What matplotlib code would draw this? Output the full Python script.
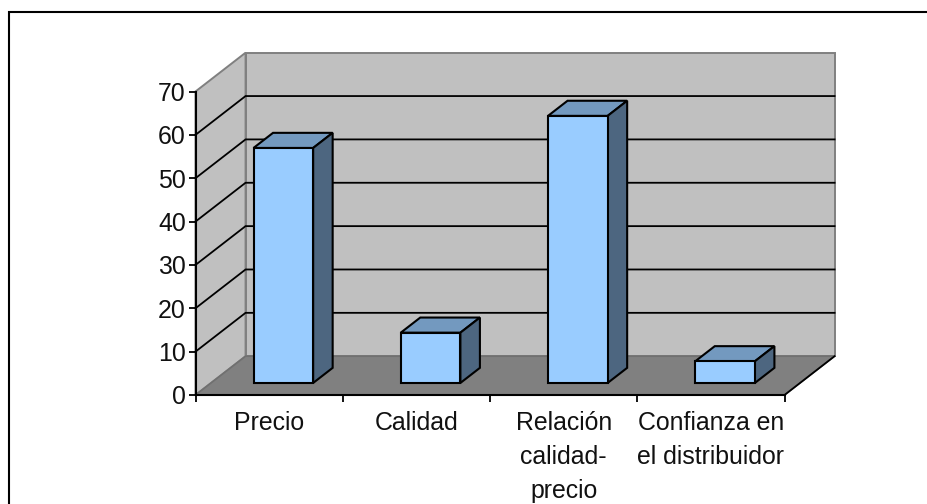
import matplotlib
matplotlib.use("Agg")
import matplotlib.pyplot as plt
from matplotlib.lines import Line2D
from matplotlib.patches import Polygon

plt.rcParams['font.family'] = ['Liberation Sans', 'DejaVu Sans']

categories = ["Precio", "Calidad", "Relación\ncalidad-\nprecio", "Confianza en\nel distribuidor"]
values = [54.2, 11.6, 61.6, 5.0]
y_ticks = [0, 10, 20, 30, 40, 50, 60, 70]

W, H = 927, 504
# front plane of the 3d box, in pixels
left, right, top, bottom = 195.5, 784.5, 91.5, 395.0
# depth of the box in data units
DX = 0.34
DY = 8.95
BAR_W = 0.405
BAR_SHIFT = -0.009
BAR_D0, BAR_D1 = 0.31, 0.70


def proj(x, y, d):
    return (x + DX * d, y + DY * d)


fig = plt.figure(figsize=(W / 100, H / 100), dpi=100, facecolor="white")
# frame is only open at the right and bottom of the picture
fig.add_artist(Line2D([9.2 / W, 9.2 / W, 1], [0, 1 - 12 / H, 1 - 12 / H], transform=fig.transFigure,
                      color="black", lw=1.5, solid_joinstyle="miter"))

ax = fig.add_axes([left / W, 1 - bottom / H, (right - left) / W, (bottom - top) / H])
ax.set_xlim(0, len(values))
ax.set_ylim(0, 70)
ax.patch.set_visible(False)
for s in ["top", "right"]:
    ax.spines[s].set_visible(False)
for s in ["left", "bottom"]:
    ax.spines[s].set_linewidth(1.5)
    ax.spines[s].set_zorder(6)

n = len(values)


def poly(pts, fc, ec, lw=1.0, z=1):
    ax.add_patch(Polygon(pts, closed=True, fc=fc, ec=ec, lw=lw, zorder=z, clip_on=False, joinstyle="miter"))


# walls and floor
poly([proj(0, 0, 1), proj(n, 0, 1), proj(n, 70, 1), proj(0, 70, 1)], "#C0C0C0", "#808080", 1.4)
poly([proj(0, 0, 0), proj(0, 0, 1), proj(0, 70, 1), proj(0, 70, 0)], "#C0C0C0", "#808080", 1.4)
poly([proj(0, 0, 0), proj(n, 0, 0), proj(n, 0, 1), proj(0, 0, 1)], "#808080", "#707070", 1.2)
ax.plot(*zip(proj(n, 0, 0), proj(n, 0, 1)), color="black", lw=1.3, zorder=2, clip_on=False)

# gridlines
for v in y_ticks[1:-1]:
    ax.plot(*zip(proj(0, v, 0), proj(0, v, 1), proj(n, v, 1)), color="black", lw=1.3, zorder=2,
            clip_on=False, solid_joinstyle="miter")

# bars
for i, v in enumerate(values):
    x0 = i + 0.5 + BAR_SHIFT - BAR_W / 2
    x1 = i + 0.5 + BAR_SHIFT + BAR_W / 2
    poly([proj(x0, v, BAR_D0), proj(x1, v, BAR_D0), proj(x1, v, BAR_D1), proj(x0, v, BAR_D1)],
         "#7399BF", "black", 1.5, 3)
    poly([proj(x1, 0, BAR_D0), proj(x1, 0, BAR_D1), proj(x1, v, BAR_D1), proj(x1, v, BAR_D0)],
         "#4D6680", "black", 1.5, 3)
    poly([proj(x0, 0, BAR_D0), proj(x1, 0, BAR_D0), proj(x1, v, BAR_D0), proj(x0, v, BAR_D0)],
         "#99CCFF", "black", 1.5, 4)

ax.set_yticks(y_ticks)
ax.set_xticks(range(n + 1))
ax.set_xticklabels([])
ax.set_xticks([i + 0.5 for i in range(n)], minor=True)
ax.set_xticklabels(categories, minor=True, fontsize=17.9, linespacing=1.54, color="#111111")
ax.tick_params(axis="x", which="minor", length=0, pad=11.5)
ax.tick_params(axis="x", which="major", length=5, width=1.3)
ax.tick_params(axis="y", length=5, width=1.3, labelsize=17.9, pad=2, labelcolor="#111111")

fig.savefig("out.png", dpi=100)
